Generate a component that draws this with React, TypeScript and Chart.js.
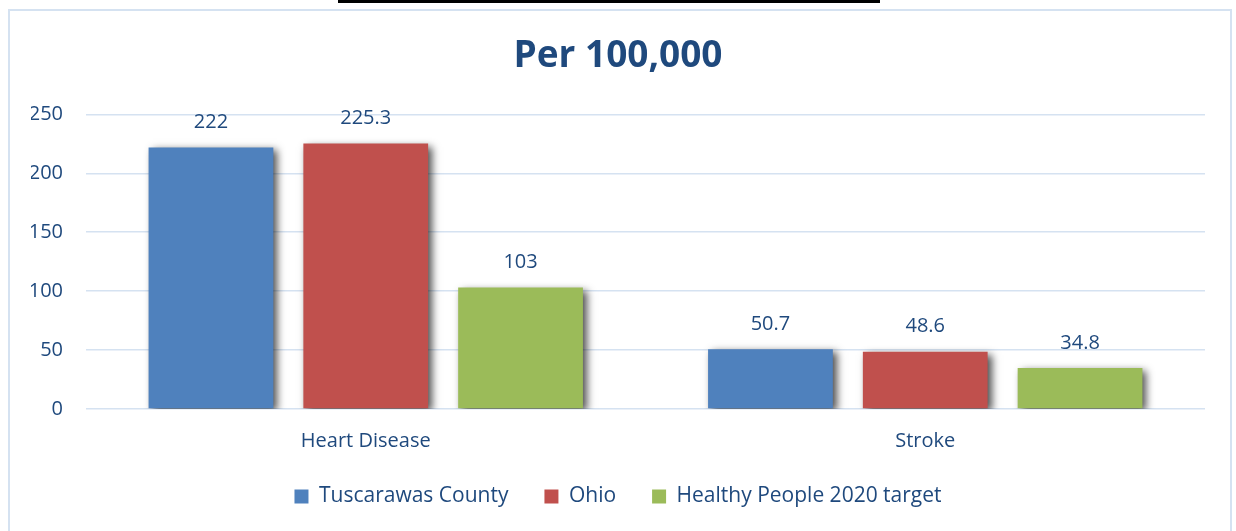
import React, { useEffect, useRef } from "react";
import { Chart, registerables } from "chart.js";

Chart.register(...registerables);

const categories = ["Heart Disease", "Stroke"];
const seriesNames = ["Tuscarawas County", "Ohio", "Healthy People 2020 target"];
const tuscarawas = [222, 50.7];
const ohio = [225.3, 48.6];
const healthyPeople = [103, 34.8];
const seriesColors = ["#4F81BD", "#C0504D", "#9BBB59"];
const yTicks = [0, 50, 100, 150, 200, 250];
const titleText = "Per 100,000";

const TEXT = "#1F497D";
const FONT = "'Open Sans', 'Noto Sans', sans-serif";

const shadowPlugin = {
  id: "barShadow",
  beforeDatasetDraw(chart: any) {
    const ctx = chart.ctx;
    ctx.save();
    ctx.shadowColor = "rgba(0,0,0,0.7)";
    ctx.shadowBlur = 8;
    ctx.shadowOffsetX = 4;
    ctx.shadowOffsetY = 3;
  },
  afterDatasetDraw(chart: any) {
    chart.ctx.restore();
  },
};

const labelPlugin = {
  id: "valueLabels",
  afterDatasetsDraw(chart: any) {
    const ctx = chart.ctx;
    ctx.save();
    ctx.font = `20px ${FONT}`;
    ctx.fillStyle = TEXT;
    ctx.textAlign = "center";
    ctx.textBaseline = "middle";
    chart.data.datasets.forEach((ds: any, di: number) => {
      const meta = chart.getDatasetMeta(di);
      meta.data.forEach((bar: any, i: number) => {
        ctx.fillText(String(ds.data[i]), bar.x, bar.y - 25);
      });
    });
    ctx.restore();
  },
};

export default function App() {
  const ref = useRef<HTMLCanvasElement>(null);
  useEffect(() => {
    if (!ref.current) return;
    const values = [tuscarawas, ohio, healthyPeople];
    const chart = new Chart(ref.current, {
      type: "bar",
      data: {
        labels: categories,
        datasets: seriesNames.map((name, i) => ({
          label: name,
          data: values[i],
          backgroundColor: seriesColors[i],
          borderWidth: 0,
          categoryPercentage: 0.83,
          barPercentage: 0.806,
        })),
      },
      options: {
        responsive: false,
        animation: false,
        layout: { padding: { top: 10, left: 31, right: 31, bottom: 14 } },
        plugins: {
          title: {
            display: true,
            text: titleText,
            color: TEXT,
            font: { family: FONT, size: 37, weight: "bold" },
            padding: { top: 24, bottom: 36 },
          },
          legend: {
            position: "bottom",
            labels: {
              boxWidth: 14,
              boxHeight: 14,
              padding: 36,
              color: TEXT,
              font: { family: FONT, size: 21 },
            },
          },
          tooltip: { enabled: false },
        },
        scales: {
          x: {
            grid: { display: false, drawTicks: false },
            border: { display: false },
            ticks: { color: TEXT, font: { family: FONT, size: 20 }, padding: 20 },
            afterFit(scale: any) {
              scale.height = 41;
            },
          },
          y: {
            min: 0,
            max: 250,
            afterBuildTicks(scale: any) {
              scale.ticks = yTicks.map((v) => ({ value: v }));
            },
            grid: { color: "#D5E2F1", lineWidth: 1.5, drawTicks: false },
            border: { display: false },
            ticks: { color: TEXT, font: { family: FONT, size: 20 }, padding: 23 },
            afterFit(scale: any) {
              scale.width = 55;
            },
          },
        },
      },
      plugins: [shadowPlugin, labelPlugin],
    });
    return () => chart.destroy();
  }, []);

  return (
    <div style={{ position: "fixed", left: 0, top: 0, width: 1236, height: 531, overflow: "hidden", background: "#fff" }}>
      <div style={{ position: "absolute", left: 338, top: 0, width: 542, height: 3, background: "#000" }} />
      <div
        style={{
          position: "absolute",
          left: 8,
          top: 9,
          width: 1224,
          height: 540,
          border: "2px solid #D5E2F1",
          boxSizing: "border-box",
        }}
      />
      <canvas ref={ref} width={1236} height={531} style={{ position: "absolute", left: 0, top: 0 }} />
    </div>
  );
}
